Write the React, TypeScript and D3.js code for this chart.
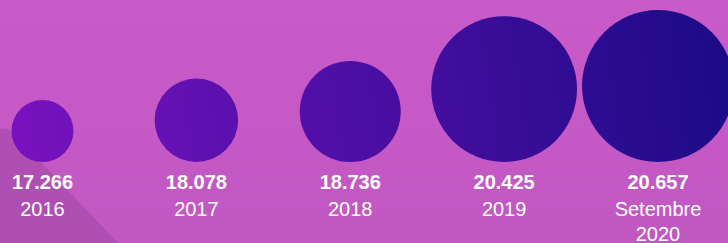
import React from "react";
import * as d3 from "d3";

// data
const periods = ["2016", "2017", "2018", "2019", "Setembre 2020"];
const totals = [17266, 18078, 18736, 20425, 20657];

const W = 728;
const H = 243;

const fmt = d3.formatLocale({
  decimal: ",",
  thousands: ".",
  grouping: [3],
  currency: ["", "€"],
}).format(",d");

const App = () => {
  const x = d3.scalePoint<string>().domain(periods).range([42.5, 658]);
  const r = d3
    .scaleLinear()
    .domain([d3.min(totals) as number, d3.max(totals) as number])
    .range([31, 76]);
  const baseY = 162; // circles sit on a common bottom line

  const font = "'Liberation Sans', Arial, Helvetica, sans-serif";

  return (
    <div style={{ position: "absolute", left: 0, top: 0 }}>
      <svg width={W} height={H} style={{ display: "block" }}>
        <defs>
          <linearGradient id="bg" x1="0" y1="0" x2="0" y2="1">
            <stop offset="0%" stopColor="#C95AC9" />
            <stop offset="100%" stopColor="#C158C2" />
          </linearGradient>
          <linearGradient
            id="dot"
            gradientUnits="userSpaceOnUse"
            x1={0}
            y1={160}
            x2={W}
            y2={60}
          >
            <stop offset="0%" stopColor="#7A12C0" />
            <stop offset="100%" stopColor="#1C0B86" />
          </linearGradient>
        </defs>
        <rect width={W} height={H} fill="url(#bg)" />
        {/* darker corner shape bottom left */}
        <path d="M0,129 Q8,127 15,135 L118,243 L0,243 Z" fill="#B04FB3" />
        {periods.map((p, i) => {
          const cx = x(p) as number;
          const rad = r(totals[i]);
          const lines = p.split(" ");
          return (
            <g key={p}>
              <circle cx={cx} cy={baseY - rad} r={rad} fill="url(#dot)" />
              <text
                x={cx}
                y={189}
                textAnchor="middle"
                fill="#fff"
                fontFamily={font}
                fontWeight="bold"
                fontSize={20}
              >
                {fmt(totals[i])}
              </text>
              {lines.map((l, j) => (
                <text
                  key={l}
                  x={cx}
                  y={216 + j * 25}
                  textAnchor="middle"
                  fill="#fff"
                  fontFamily={font}
                  fontSize={20}
                >
                  {l}
                </text>
              ))}
            </g>
          );
        })}
      </svg>
    </div>
  );
};

export default App;
